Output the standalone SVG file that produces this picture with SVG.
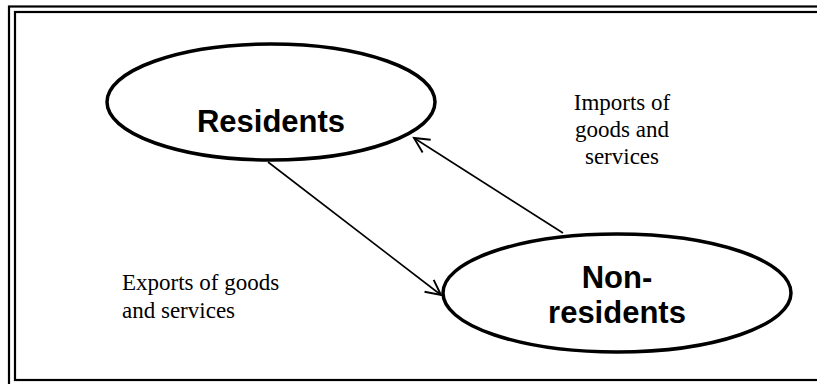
<svg xmlns="http://www.w3.org/2000/svg" width="817" height="384" viewBox="0 0 817 384">
<style>
.node{fill:#fff;stroke:#000;stroke-width:3.5}
.lbl{font-family:"Liberation Sans",Arial,sans-serif;font-weight:bold;font-size:31px;fill:#000;text-anchor:middle}
.edge{font-family:"Liberation Serif","Times New Roman",serif;font-size:23px;fill:#000}
.conn{stroke:#000;stroke-width:1.6;fill:none}
</style>
<defs>
<marker id="arr" markerWidth="22" markerHeight="22" refX="18" refY="11" orient="auto" markerUnits="userSpaceOnUse">
<path d="M3,3.5 L18,11 L3,18.5" fill="none" stroke="#000" stroke-width="1.9"/>
</marker>
</defs>
<rect width="817" height="384" fill="#fff"/>
<g id="frame" fill="none" stroke="#000">
<rect x="9" y="6.5" width="820" height="390" stroke-width="2.2"/>
<rect x="15" y="12" width="810" height="368" stroke-width="2.2"/>
</g>
<g id="connectors">
<line class="conn" x1="268" y1="162" x2="441" y2="295" marker-end="url(#arr)"/>
<line class="conn" x1="563" y1="233" x2="414" y2="138" marker-end="url(#arr)"/>
</g>
<g id="residents">
<ellipse class="node" cx="271" cy="102" rx="164" ry="58"/>
<text class="lbl" x="271" y="132">Residents</text>
</g>
<g id="nonresidents">
<ellipse class="node" cx="617" cy="293" rx="174" ry="59"/>
<text class="lbl" x="617" y="288">Non-</text>
<text class="lbl" x="617" y="323">residents</text>
</g>
<g id="imports-label">
<text class="edge" text-anchor="middle" x="622" y="110">Imports of</text>
<text class="edge" text-anchor="middle" x="622" y="137">goods and</text>
<text class="edge" text-anchor="middle" x="622" y="164">services</text>
</g>
<g id="exports-label">
<text class="edge" x="122" y="290">Exports of goods</text>
<text class="edge" x="122" y="318">and services</text>
</g>
</svg>
